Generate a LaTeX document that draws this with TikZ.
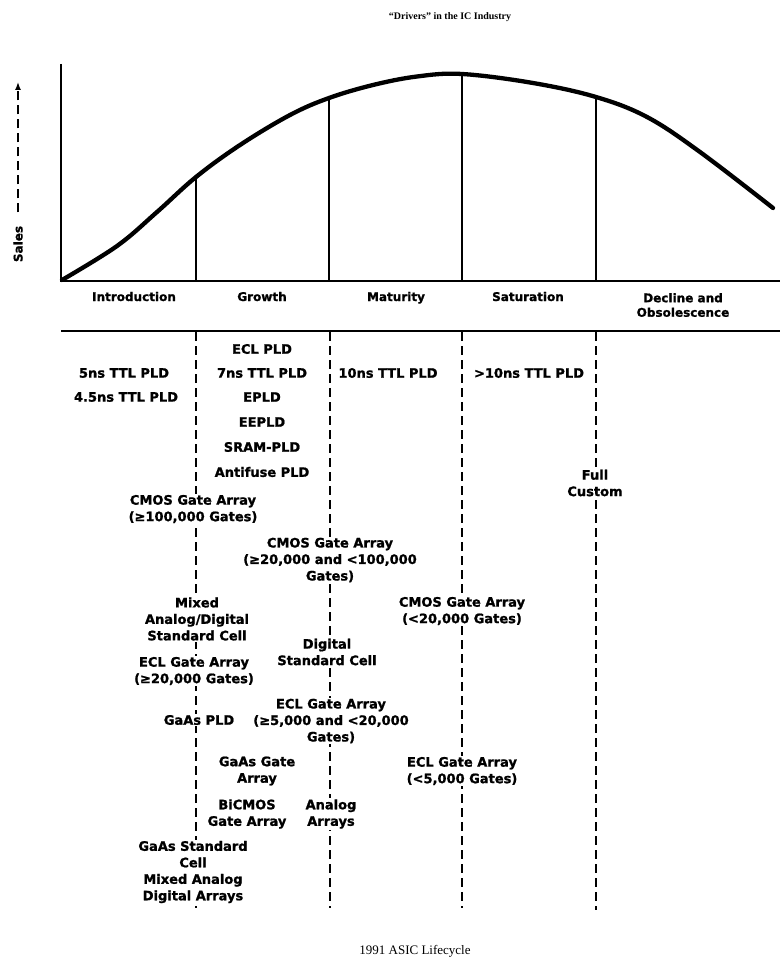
\documentclass[tikz,border=0pt]{standalone}
\usepackage{fontspec}
\setmainfont{DejaVu Sans}[BoldFeatures={FakeBold=1.2}]
\newfontfamily\serifcap{Liberation Serif}
\usetikzlibrary{arrows.meta}
\begin{document}
\begin{tikzpicture}[x=1pt,y=-1pt,
  lbl/.style={font=\bfseries\fontsize{13}{16.5}\selectfont, align=center, fill=white, inner sep=1pt},
  stagelbl/.style={font=\bfseries\fontsize{12}{14.5}\selectfont, align=center, inner sep=0pt, text height=9pt, text depth=3pt},
  dashln/.style={line width=1.6pt, dash pattern=on 9pt off 5pt},
  axisln/.style={line width=2.4pt},
  stageln/.style={line width=1.8pt},
  curveln/.style={line width=4.3pt, line cap=round, line join=round}]
\useasboundingbox (0,0) rectangle (780,971);

% title
\node[font=\serifcap\bfseries\fontsize{10}{12}\selectfont] (title) at (450,17) {“Drivers” in the IC Industry};

% axes
\coordinate (org) at (61,281);
\coordinate (ytop) at (61,64);
\coordinate (xend) at (780,281);
\draw[axisln] (ytop) -- (org) -- (xend);

% sales label with dashed arrow
\node[font=\bfseries\fontsize{12}{14}\selectfont, rotate=90] (sales) at (18,244) {Sales};
\coordinate (arrtop) at (18,82);
\draw[line width=1.4pt, dash pattern=on 9pt off 5pt, -{Latex[length=8pt,width=6pt]}] (sales.east) ++(0,-10) -- (arrtop);

% curve
\coordinate (c1) at (196,177);
\coordinate (c2) at (329,98);
\coordinate (c3) at (462,74);
\coordinate (c4) at (596,97);
\draw[curveln] plot[smooth, tension=0.6] coordinates {(62,280) (117,246) (157,212) (196,177) (240,145) (290,115) (329,98) (373,85) (417,76.5) (462,74) (533,83) (596,97) (647,117) (700,152) (773,208)};

% stage separators
\coordinate (b1) at (196,281);
\coordinate (b2) at (329,281);
\coordinate (b3) at (462,281);
\coordinate (b4) at (596,281);
\draw[stageln] (c1) -- (b1);
\draw[stageln] (c2) -- (b2);
\draw[stageln] (c3) -- (b3);
\draw[stageln] (c4) -- (b4);

% stage labels
\node[stagelbl] (intro) at (134,298) {Introduction};
\node[stagelbl] (growth) at (262,298) {Growth};
\node[stagelbl] (matur) at (396,298) {Maturity};
\node[stagelbl] (satur) at (528,298) {Saturation};
\node[stagelbl, text height=, text depth=] (decl) at (683,305) {Decline and\\Obsolescence};

% horizontal rule
\coordinate (hl) at (61,331);
\coordinate (hr) at (780,331);
\draw[line width=2.6pt] (hl) -- (hr);

% dashed column lines
\coordinate (d1t) at (196,332); \coordinate (d1b) at (196,908);
\coordinate (d2t) at (330,332); \coordinate (d2b) at (330,908);
\coordinate (d3t) at (462,332); \coordinate (d3b) at (462,908);
\coordinate (d4t) at (596,332); \coordinate (d4b) at (596,910);
\draw[dashln] (d1t) -- (d1b);
\draw[dashln] (d2t) -- (d2b);
\draw[dashln] (d3t) -- (d3b);
\draw[dashln] (d4t) -- (d4b);

% PLD rows
\node[lbl] (eclpld) at (262,349) {ECL PLD};
\node[lbl] (ttl5) at (124,373) {5ns TTL PLD};
\node[lbl] (ttl7) at (262,373) {7ns TTL PLD};
\node[lbl] (ttl10) at (388,373) {10ns TTL PLD};
\node[lbl] (ttlgt) at (529,373) {>10ns TTL PLD};
\node[lbl] (ttl45) at (126,397) {4.5ns TTL PLD};
\node[lbl] (epld) at (262,397) {EPLD};
\node[lbl] (eepld) at (262,422) {EEPLD};
\node[lbl] (srampld) at (262,447) {SRAM-PLD};
\node[lbl] (antifuse) at (262,472) {Antifuse PLD};
\node[lbl] (fullcust) at (595,483) {Full\\Custom};

% gate arrays etc.
\node[lbl] (cmos100) at (193,509) {CMOS Gate Array\\(≥100,000 Gates)};
\node[lbl] (cmos20) at (330,560) {CMOS Gate Array\\(≥20,000 and <100,000\\Gates)};
\node[lbl] (mixedsc) at (197,619) {Mixed\\Analog/Digital\\Standard Cell};
\node[lbl] (cmoslt) at (462,611) {CMOS Gate Array\\(<20,000 Gates)};
\node[lbl] (digsc) at (327,652) {Digital\\Standard Cell};
\node[lbl] (ecl20) at (194,671) {ECL Gate Array\\(≥20,000 Gates)};
\node[lbl] (gaaspld) at (199,720) {GaAs PLD};
\node[lbl] (ecl5) at (331,721) {ECL Gate Array\\(≥5,000 and <20,000\\Gates)};
\node[lbl] (gaasga) at (257,771) {GaAs Gate\\Array};
\node[lbl] (ecllt) at (462,771) {ECL Gate Array\\(<5,000 Gates)};
\node[lbl] (bicmos) at (247,814) {BiCMOS\\Gate Array};
\node[lbl] (analog) at (331,814) {Analog\\Arrays};
\node[lbl] (gaassc) at (193,872) {GaAs Standard\\Cell\\Mixed Analog\\Digital Arrays};

% caption
\node[font=\serifcap\fontsize{13}{15}\selectfont] (caption) at (415,951) {1991 ASIC Lifecycle};
\end{tikzpicture}
\end{document}
